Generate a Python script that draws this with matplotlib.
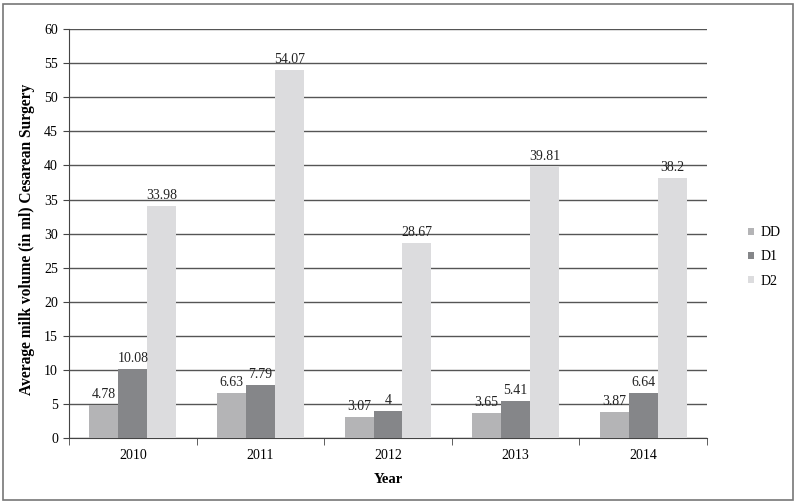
import numpy as np
import matplotlib
matplotlib.use('Agg')
import matplotlib.pyplot as plt
from matplotlib.patches import Rectangle

plt.rcParams['font.family'] = ['Liberation Serif', 'DejaVu Serif']

years = ['2010', '2011', '2012', '2013', '2014']
dd = [4.78, 6.63, 3.07, 3.65, 3.87]
d1 = [10.08, 7.79, 4, 5.41, 6.64]
d2 = [33.98, 54.07, 28.67, 39.81, 38.2]
series_names = ['DD', 'D1', 'D2']
colors = ['#b4b4b6', '#858689', '#dcdcde']

fig = plt.figure(figsize=(7.96, 5.04), dpi=100)
ax = fig.add_axes([0.0867, 0.131, 0.8015, 0.811])

x = np.arange(len(years))
w = 0.227
for k, (vals, name, c) in enumerate(zip([dd, d1, d2], series_names, colors)):
    pos = x + (k - 1) * w
    bars = ax.bar(pos, vals, w, color=c, label=name, zorder=3)
    for b, v in zip(bars, vals):
        ax.text(b.get_x() + b.get_width() / 2, v + 0.6, '%g' % v,
                ha='center', va='bottom', fontsize=10, color='#222222', zorder=4)

ax.set_xlim(-0.5, len(years) - 0.5)
ax.set_ylim(0, 60)
ax.set_yticks(range(0, 61, 5))
ax.yaxis.grid(True, color='#555555', linewidth=1, zorder=0)
ax.set_axisbelow(True)

ax.set_xticks(x)
ax.set_xticklabels(years, fontsize=10)
ax.set_xticks(np.arange(-0.5, len(years)), minor=True)
ax.tick_params(axis='x', which='major', length=0, pad=8)
ax.tick_params(axis='x', which='minor', length=5, color='#444444')
ax.tick_params(axis='y', length=4, color='#444444', labelsize=10, pad=4)

for s in ['top', 'right']:
    ax.spines[s].set_visible(False)
ax.spines['left'].set_color('#444444')
ax.spines['bottom'].set_color('#444444')

ax.set_xlabel('Year', fontsize=10.5, fontweight='bold', labelpad=8)
ax.set_ylabel('Average milk volume (in ml) Cesarean Surgery', fontsize=11.2,
              fontweight='bold')
ax.yaxis.set_label_coords(-0.053, 0.487)

leg = ax.legend(loc='center left', bbox_to_anchor=(1.045, 0.443), frameon=False,
                fontsize=10, handlelength=0.45, handleheight=0.45, handletextpad=0.45,
                labelspacing=0.8)

fig.patches.append(Rectangle((0.004, 0.008), 0.992, 0.984, transform=fig.transFigure,
                             fill=False, edgecolor='#777777', linewidth=1.2))

fig.savefig('out.png', dpi=100)
